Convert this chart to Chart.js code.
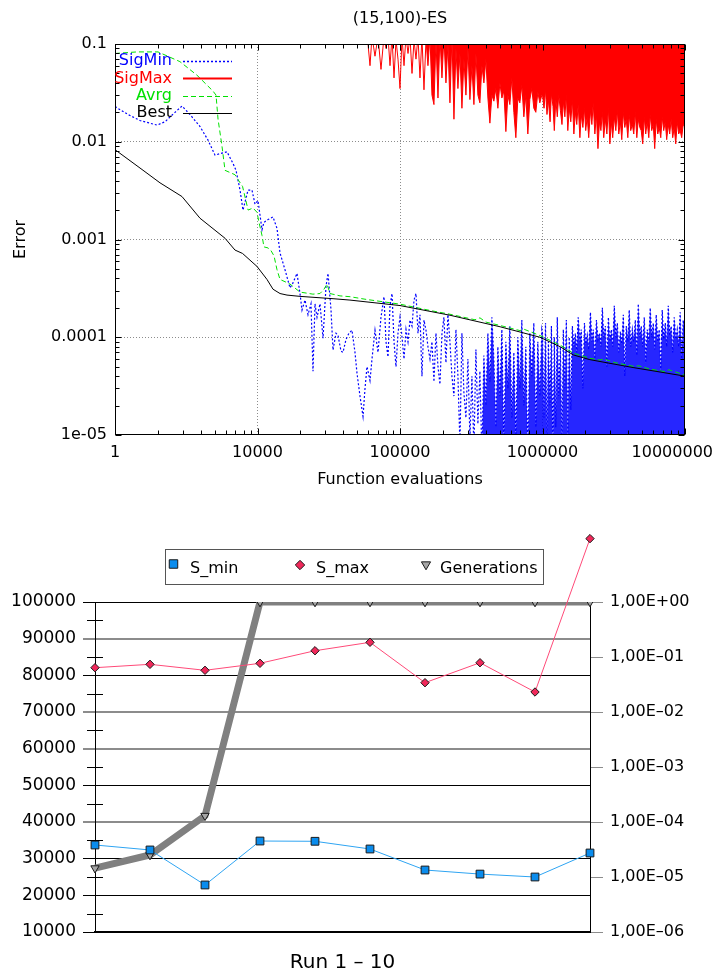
<!DOCTYPE html>
<html><head><meta charset="utf-8">
<script src="https://cdn.jsdelivr.net/npm/chart.js@4.4.1/dist/chart.umd.min.js"></script>
<style>
html,body{margin:0;padding:0;background:#fff;}
#top{position:absolute;left:0;top:0;}
#bot{position:absolute;left:0;top:500px;}
</style></head><body>
<canvas id="top" width="714" height="500"></canvas>
<canvas id="bot" width="714" height="476"></canvas>
<script>
// ---------------- Top chart data ----------------
const xTickValues = [1000, 1e4, 1e5, 1e6, 1e7];
const xTickLabels = ["1", "10000", "100000", "1000000", "10000000"];
const yTickValues = [1e-5, 1e-4, 1e-3, 1e-2, 1e-1];
const yTickLabels = ["1e-05", "0.0001", "0.001", "0.01", "0.1"];

const sigEvals = [
 1000,1234,1497,1971,2244,2637,2953,3360,3950,4494,5031,5545,6109,6732,7066,7540,7911,8579,9150,9605,
 10081,10756,11108,11849,12846,13703,14384,15597,16911,17748,18933,19868,20525,21544,22614,23733,24519,25325,26159,27457,
 28823,30249,31244,32805,33880,35557,36722,38548,39811,41786,43863,46036,48316,49905,52387,55007,56818,58675,61585,63608,
 66766,70080,73557,77202,79764,82380,85096,87898,90782,93755,96828,
 1.000e5,1.033e5,1.067e5,1.102e5,1.138e5,1.175e5,1.214e5,1.254e5,1.295e5,1.337e5,1.381e5,1.426e5,1.473e5,1.522e5,1.571e5,1.623e5,
 1.676e5,1.731e5,1.788e5,1.847e5,1.907e5,1.970e5,2.034e5,2.101e5,2.170e5,2.241e5,2.315e5,2.391e5,2.469e5,2.550e5,2.634e5,2.720e5,
 2.809e5,2.902e5,2.997e5,3.095e5,3.197e5,3.301e5,3.410e5,3.521e5,3.637e5,3.756e5,3.879e5,4.007e5,4.138e5,4.274e5,4.414e5,4.559e5,
 4.708e5,4.863e5,5.022e5,5.187e5,5.357e5,5.533e5,5.714e5,5.902e5,6.095e5,6.295e5,6.502e5,6.715e5,6.935e5,7.163e5,7.398e5,7.640e5,
 7.891e5,8.150e5,8.417e5,8.693e5,8.979e5,9.273e5,9.577e5,9.891e5,
 1.000e6,1.025e6,1.050e6,1.075e6,1.100e6,1.130e6,1.155e6,1.185e6,1.210e6,1.240e6,1.270e6,1.300e6,1.335e6,1.370e6,1.400e6,1.435e6,
 1.470e6,1.505e6,1.540e6,1.580e6,1.620e6,1.660e6,1.700e6,1.740e6,1.780e6,1.830e6,1.870e6,1.920e6,1.970e6,2.010e6,2.060e6,2.110e6,
 2.170e6,2.220e6,2.270e6,2.330e6,2.390e6,2.450e6,2.510e6,2.570e6,2.630e6,2.690e6,2.760e6,2.830e6,2.900e6,2.970e6,3.040e6,3.110e6,
 3.190e6,3.270e6,3.350e6,3.430e6,3.520e6,3.600e6,3.690e6,3.780e6,3.870e6,3.970e6,4.060e6,4.160e6,4.270e6,4.370e6,4.480e6,4.590e6,
 4.700e6,4.820e6,4.930e6,5.050e6,5.180e6,5.300e6,5.430e6,5.570e6,5.700e6,5.840e6,5.990e6,6.130e6,6.280e6,6.440e6,6.590e6,6.760e6,
 6.920e6,7.090e6,7.270e6,7.440e6,7.630e6,7.810e6,8.000e6,8.200e6,8.400e6,8.610e6,8.820e6,9.030e6,9.250e6,9.480e6,9.710e6,1.000e7
];

const sigMin = [
 0.0229,0.0190,0.0165,0.0148,0.0160,0.0200,0.0232,0.0190,0.0143,0.0104,0.0073,0.0076,0.0079,0.0060,0.0051,0.0032,0.0020,0.0032,0.0032,0.0023,
 0.0025,0.00126,0.0015,0.0016,0.0017,0.0013,0.00073,0.00049,0.00032,0.00036,0.00045,0.00028,0.00019,0.00024,0.00017,0.00022,0.000045,0.00022,0.00016,0.00022,
 0.000098,0.00033,0.00045,0.00019,0.000074,0.00011,0.000105,0.000072,0.00007,0.000095,0.00011,0.000118,0.00007,0.000043,0.000025,0.0000155,0.00003,0.00005,0.000036,0.00006,
 0.000118,0.00007,0.00016,0.00026,0.00009,0.000063,0.00021,0.00028,0.00009,0.00005,0.00011,
 0.00016,0.0001,0.00006,0.00012,0.00009,0.00015,0.00013,0.00024,0.00028,0.00011,
 0.00017,0.00004,0.00015,0.000118,0.00008,0.00006,0.00009,0.000035,0.00011,0.00005,
 0.000033,0.00011,0.00016,0.000055,0.00017,0.00009,0.00004,0.000025,0.00012,0.00004,
 0.000008,0.00011,0.000027,0.000015,0.00006,0.000009,0.00004,0.000007,0.000075,0.000013,
 0.000045,0.000006,0.000065,0.00002,0.00011,0.000035,0.00016,0.00006,0.000012,0.00008,
 0.000025,0.00012,0.000008,0.00009,0.00003,0.00013,0.000015,0.00007,0.000009,0.0001,
 0.00003,0.00015,0.00002,0.00008,0.000006,0.00011,0.00004,0.00014,0.000012,0.00009,
 0.000025,0.00012,
 0.00011,0.000015,0.00014,0.000008,0.00009,0.00002,0.00013,0.000006,0.0001,0.000012,
 0.00016,0.000025,0.00008,0.000007,0.00012,0.00003,0.00015,0.000009,0.0001,0.000018,
 0.00013,0.00008,0.00011,0.00007,0.00016,0.00009,0.00012,0.00003,0.00014,0.000085,
 0.000105,0.000075,0.00018,0.00009,0.00012,0.00006,0.00015,0.000095,0.00011,0.00008,
 0.0002,0.0001,0.00013,0.00005,0.00016,0.00009,0.00012,0.00008,0.00021,0.0001,
 0.00014,0.00007,0.000115,0.000085,0.00017,0.00004,0.00013,0.00009,0.00019,0.00008,
 0.00012,0.00009,0.00015,0.000065,0.00022,0.0001,0.00013,0.00008,0.00016,0.000055,
 0.00012,0.00009,0.0002,0.0001,0.00014,0.000075,0.00017,0.00009,0.00012,0.000045,
 0.00019,0.000095,0.00014,0.00008,0.00021,0.000105,0.00013,0.00007,0.00016,0.000095,
 0.00012,0.00008,0.00018,0.00006,0.00015,0.000095
];

const sigMax = [
 0.9,0.85,0.8,0.75,0.7,0.65,0.6,0.55,0.5,0.48,0.45,0.42,0.4,0.38,0.36,0.35,0.34,0.33,0.32,0.31,
 0.3,0.29,0.29,0.28,0.27,0.26,0.26,0.25,0.24,0.24,0.23,0.22,0.22,0.21,0.21,0.2,0.2,0.19,0.19,0.18,
 0.18,0.18,0.17,0.17,0.17,0.16,0.16,0.16,0.15,0.15,0.15,0.14,0.14,0.14,0.14,0.13,0.13,
 0.13,0.06,0.12,0.075,0.12,0.055,0.12,0.09,0.12,0.06,0.12,0.045,0.11,0.07,
 0.035,0.12,0.06,0.12,0.08,0.12,0.05,0.11,0.07,0.12,0.045,0.12,0.034,
 0.11,0.06,0.12,0.03,0.024,0.11,0.028,0.12,0.045,0.12,0.04,0.10,0.025,0.12,0.017,0.09,
 0.035,0.08,0.022,0.07,0.03,0.09,0.027,0.06,0.024,0.08,0.03,0.025,0.06,0.04,0.07,0.028,
 0.0155,0.03,0.026,0.035,0.022,0.04,0.028,0.033,0.0127,0.03,
 0.024,0.045,0.02,0.011,0.028,0.025,0.038,0.018,0.03,0.012,
 0.027,0.035,0.022,0.02,0.032,0.025,0.03,
 0.03,0.022,0.034,0.019,0.027,0.016,0.031,0.023,0.013,0.027,0.018,0.03,
 0.021,0.015,0.026,0.018,0.03,0.013,0.022,0.016,0.027,0.012,0.02,0.015,
 0.024,0.011,0.019,0.014,0.022,0.013,0.018,0.011,0.021,0.015,0.025,0.012,
 0.019,0.0085,0.016,0.013,0.02,0.011,0.017,0.012,0.022,0.0095,0.016,0.011,
 0.018,0.013,0.021,0.012,0.016,0.0105,0.02,0.014,0.017,0.011,0.019,0.013,
 0.015,0.012,0.02,0.011,0.017,0.014,0.013,0.0095,0.018,0.012,0.016,0.011,
 0.019,0.013,0.015,0.0085,0.017,0.012,0.014,0.011,0.018,0.013,0.016,0.0105,
 0.015,0.012,0.017,0.011,0.014,0.0095,0.016,0.012,0.013,0.011,0.015,0.014
];

const avgEvals = [1000,1427,2004,2856,3758,4870,5117,5286,5640,5916,6950,7300,7850,8590,9300,9920,10240,10756,11100,11850,
 12430,13060,13710,14390,15600,16910,19860,24490,27450,29290,30740,32260,37950,44570,56780,100000,162300,224000,336000,364000,
 400000,504000,695000,740000,960000,1330000,1640000,2150000,2530000,2700000,3230000,4320000,4750000,5680000,7240000,7700000,10000000];
const avrg = [0.080,0.083,0.083,0.066,0.048,0.033,0.030,0.017,0.0089,0.0051,0.0046,0.0041,0.0035,0.0020,0.0021,0.0019,0.0015,0.0011,0.00084,0.00082,
 0.00077,0.00068,0.00049,0.00039,0.00037,0.00035,0.00029,0.000276,0.00028,0.00031,0.00035,0.00028,0.000265,0.00026,0.000245,0.000218,0.000188,0.000172,0.000151,0.000158,
 0.000143,0.000132,0.000117,0.000121,0.000104,0.000083,0.000069,0.000061,0.0000585,0.00006,0.000055,0.0000505,0.000051,0.0000472,0.0000445,0.0000465,0.000041];

const bestEvals = [1000,1547,2069,2952,3950,5916,6950,7850,9920,11660,12850,14390,16110,19860,33880,44570,100000,224000,504000,960000,1330000,1640000,2150000,4320000,10000000];
const best = [0.0083,0.0052,0.0038,0.00275,0.00165,0.00103,0.00078,0.00072,0.00053,0.00039,0.00031,0.00028,0.00027,0.000262,0.000248,0.00024,0.000211,0.000168,0.000128,0.0001,0.00008,0.000066,0.000059,0.000049,0.00004];

// ---------------- Bottom chart data ----------------
const runs = ["1","2","3","4","5","6","7","8","9","10"];
const sMin = [3.82e-5, 3.10e-5, 7.16e-6, 4.51e-5, 4.46e-5, 3.23e-5, 1.34e-5, 1.13e-5, 1.00e-5, 2.73e-5];
const sMax = [0.0639, 0.0736, 0.0573, 0.0768, 0.130, 0.185, 0.0341, 0.0787, 0.0231, 14.2];
const generations = [27400, 31000, 41700, 100000, 100000, 100000, 100000, 100000, 100000, 100000];
const leftTickValues = [10000,20000,30000,40000,50000,60000,70000,80000,90000,100000];
const leftTickLabels = ["10000","20000","30000","40000","50000","60000","70000","80000","90000","100000"];
const rightTickValues = [1e-6,1e-5,1e-4,1e-3,1e-2,1e-1,1];
const rightTickLabels = ["1,00E\u201306","1,00E\u201305","1,00E\u201304","1,00E\u201303","1,00E\u201302","1,00E\u201301","1,00E+00"];

// ---------------- helpers ----------------
const FONT = "'DejaVu Sans', 'Liberation Sans', sans-serif";
Chart.defaults.font.family = FONT;
Chart.defaults.color = '#000';

function isPow10(v){ const l = Math.log10(v); return Math.abs(l - Math.round(l)) < 1e-9; }
function labelFor(values, labels, v){
  for (let i = 0; i < values.length; i++) if (Math.abs(values[i] - v) <= values[i] * 1e-6) return labels[i];
  return '';
}
function mant(v){
  const e = Math.floor(Math.log10(v) + 1e-9);
  const m = v / Math.pow(10, e);
  const r = Math.round(m);
  return (Math.abs(m - r) < 1e-6 && r >= 1 && r <= 9) ? r : null;
}
const toXY = (xs, ys) => xs.map((x, i) => ({x: x, y: ys[i]}));

// frame + inward ticks (gnuplot style)
const frameTicks = {
  id: 'frameTicks',
  afterDatasetsDraw(chart){
    const {ctx, chartArea: a} = chart;
    const xs = chart.scales.x, ys = chart.scales.y;
    const L = Math.round(a.left) + 0.5, R = Math.round(a.right) - 0.5;
    const T = Math.round(a.top) + 0.5, B = Math.round(a.bottom) - 0.5;
    ctx.save();
    ctx.strokeStyle = '#000'; ctx.lineWidth = 1; ctx.setLineDash([]);
    ctx.beginPath();
    xs.ticks.forEach(t => {
      const m = mant(t.value); if (m === null) return;
      const len = m === 1 ? 6 : 4;
      const px = Math.round(xs.getPixelForValue(t.value)) + 0.5;
      ctx.moveTo(px, B); ctx.lineTo(px, B - len);
      ctx.moveTo(px, T); ctx.lineTo(px, T + len);
    });
    ys.ticks.forEach(t => {
      const m = mant(t.value); if (m === null) return;
      const len = m === 1 ? 6 : 4;
      const py = Math.round(ys.getPixelForValue(t.value)) + 0.5;
      ctx.moveTo(L, py); ctx.lineTo(L + len, py);
      ctx.moveTo(R, py); ctx.lineTo(R - len, py);
    });
    ctx.stroke();
    ctx.strokeRect(L, T, R - L, B - T);
    ctx.restore();
  }
};

// gnuplot-style key
const gnuKey = {
  id: 'gnuKey',
  afterDatasetsDraw(chart){
    const ctx = chart.ctx;
    ctx.save();
    ctx.font = "16px " + FONT;
    ctx.textAlign = 'right'; ctx.textBaseline = 'middle';
    chart.data.datasets.forEach((ds, i) => {
      const yy = 61 + i * 17.4;
      ctx.fillStyle = ds.borderColor;
      ctx.fillText(ds.label, 172, yy);
      ctx.strokeStyle = ds.borderColor;
      ctx.lineWidth = ds.keyWidth || ds.borderWidth;
      ctx.setLineDash(ds.borderDash || []);
      ctx.beginPath();
      ctx.moveTo(183, Math.round(yy) + 0.5); ctx.lineTo(232, Math.round(yy) + 0.5);
      ctx.stroke();
    });
    ctx.restore();
  }
};

const lineBase = {pointRadius: 0, tension: 0};
const CLEAR = 'rgba(0,0,0,0)';

new Chart(document.getElementById('top'), {
  type: 'line',
  data: {
    datasets: [
      Object.assign({label: 'SigMin', data: toXY(sigEvals, sigMin), borderColor: '#0000ff', borderWidth: 1.2, keyWidth: 1.6, borderDash: [2, 2], order: 3,
        fill: 'start', backgroundColor: CLEAR,
        segment: {backgroundColor: c => sigEvals[c.p0DataIndex] >= 3.7e5 ? 'rgba(0,0,255,0.85)' : CLEAR}}, lineBase),
      Object.assign({label: 'SigMax', data: toXY(sigEvals, sigMax), borderColor: '#ff0000', borderWidth: 1, keyWidth: 2, order: 2,
        fill: 'end', backgroundColor: CLEAR,
        segment: {backgroundColor: c => sigEvals[c.p0DataIndex] >= 1.5e5 ? '#ff0000' : CLEAR}}, lineBase),
      Object.assign({label: 'Avrg', data: toXY(avgEvals, avrg), borderColor: '#00e000', borderWidth: 1, borderDash: [5, 3], order: 1, fill: false}, lineBase),
      Object.assign({label: 'Best', data: toXY(bestEvals, best), borderColor: '#000000', borderWidth: 1, order: 0, fill: false}, lineBase)
    ]
  },
  options: {
    responsive: false, animation: false, events: [],
    layout: {padding: {left: 0, right: 29, top: 0, bottom: 0}},
    plugins: {
      legend: {display: false}, tooltip: {enabled: false},
      title: {display: true, fullSize: false, text: '(15,100)-ES', color: '#000',
        font: {family: FONT, size: 16, weight: 'normal'}, padding: {top: 9.4, bottom: 15.4}}
    },
    scales: {
      x: {
        type: 'logarithmic', min: 1000, max: 1e7,
        grid: {drawTicks: false, lineWidth: 1,
          color: c => (c.tick && isPow10(c.tick.value) && c.tick.value > 1000 && c.tick.value < 1e7) ? '#8c8c8c' : CLEAR},
        border: {display: false, dash: [1, 2]},
        ticks: {autoSkip: false, maxRotation: 0, minRotation: 0, padding: 8, color: '#000', font: {size: 16},
          callback: v => { const s = labelFor(xTickValues, xTickLabels, v); return (s && v >= 1e7 * 0.999) ? s + '     ' : s; }},
        title: {display: true, text: 'Function evaluations', color: '#000', font: {size: 16}, padding: {top: 0, bottom: 10.4}},
        afterFit(s){ s.height = 65; s.paddingLeft = 0; s.paddingRight = 0; }
      },
      y: {
        type: 'logarithmic', min: 1e-5, max: 0.1,
        grid: {drawTicks: false, lineWidth: 1,
          color: c => (c.tick && isPow10(c.tick.value) && c.tick.value > 1.0001e-5 && c.tick.value < 0.0999) ? '#8c8c8c' : CLEAR},
        border: {display: false, dash: [1, 2]},
        ticks: {autoSkip: false, padding: 8, color: '#000', font: {size: 16},
          callback: v => labelFor(yTickValues, yTickLabels, v)},
        title: {display: true, text: 'Error', color: '#000', font: {size: 16}, padding: {top: 11, bottom: 0}},
        afterFit(s){ s.width = 115; }
      }
    }
  },
  plugins: [frameTicks, gnuKey]
});

// ---------------- bottom chart ----------------
function drawMarker(ctx, style, rot, r, x, y, fill, stroke){
  ctx.save();
  ctx.fillStyle = fill; ctx.strokeStyle = stroke; ctx.lineWidth = 1;
  ctx.beginPath();
  if (style === 'rect') {
    const s = r * Math.SQRT1_2;
    ctx.rect(x - s, y - s, 2 * s, 2 * s);
  } else if (style === 'rectRot') {
    ctx.moveTo(x - r, y); ctx.lineTo(x, y - r); ctx.lineTo(x + r, y); ctx.lineTo(x, y + r); ctx.closePath();
  } else {
    let a = rot * Math.PI / 180;
    ctx.moveTo(x + Math.sin(a) * r, y - Math.cos(a) * r);
    a += 2 * Math.PI / 3; ctx.lineTo(x + Math.sin(a) * r, y - Math.cos(a) * r);
    a += 2 * Math.PI / 3; ctx.lineTo(x + Math.sin(a) * r, y - Math.cos(a) * r);
    ctx.closePath();
  }
  ctx.fill(); ctx.stroke();
  ctx.restore();
}

const boxLegend = {
  id: 'boxLegend',
  afterDraw(chart){
    const ctx = chart.ctx;
    ctx.save();
    ctx.strokeStyle = '#555'; ctx.lineWidth = 1;
    ctx.strokeRect(165.5, 49.5, 378, 35);
    const spots = [{mx: 173.5, my: 64, tx: 190}, {mx: 300, my: 65, tx: 316}, {mx: 426, my: 64.5, tx: 440}];
    chart.data.datasets.forEach((ds, i) => {
      const sp = spots[i];
      drawMarker(ctx, ds.pointStyle, ds.pointRotation || 0, ds.pointRadius + 0.5, sp.mx, sp.my, ds.pointBackgroundColor, ds.pointBorderColor);
      ctx.fillStyle = '#000';
      ctx.font = "16px " + FONT;
      ctx.textAlign = 'left'; ctx.textBaseline = 'middle';
      ctx.fillText(ds.label, sp.tx, 69);
    });
    ctx.restore();
  }
};

const leftMinor = {
  id: 'leftMinor',
  afterDraw(chart){
    const y = chart.scales.y, ctx = chart.ctx;
    ctx.save();
    ctx.strokeStyle = '#000'; ctx.lineWidth = 1;
    ctx.beginPath();
    for (let i = 0; i < y.ticks.length - 1; i++) {
      const v = (y.ticks[i].value + y.ticks[i + 1].value) / 2;
      const py = Math.round(y.getPixelForValue(v)) + 0.5;
      ctx.moveTo(87, py); ctx.lineTo(103, py);
    }
    ctx.stroke();
    ctx.restore();
  }
};

// markers that lie outside the plot area (S_max of run 10) are still drawn by their own point element
const outsideMarkers = {
  id: 'outsideMarkers',
  afterDatasetsDraw(chart){
    const a = chart.chartArea;
    const whole = {left: 0, top: 0, right: chart.width, bottom: chart.height};
    chart.data.datasets.forEach((ds, di) => {
      chart.getDatasetMeta(di).data.forEach(el => {
        if (el.y < a.top - 2 || el.y > a.bottom + 2) el.draw(chart.ctx, whole);
      });
    });
  }
};

const softGrid = [90000, 70000, 60000, 40000];

new Chart(document.getElementById('bot'), {
  type: 'line',
  data: {
    labels: runs,
    datasets: [
      {label: 'S_min', data: sMin, yAxisID: 'y2', borderColor: '#2ea4f2', borderWidth: 1, tension: 0,
        pointStyle: 'rect', pointRadius: 5.5, pointBackgroundColor: '#0a8ced', pointBorderColor: '#1a1a1a', pointBorderWidth: 1, order: 0, clip: false},
      {label: 'S_max', data: sMax, yAxisID: 'y2', borderColor: '#ff4a78', borderWidth: 1, tension: 0,
        pointStyle: 'rectRot', pointRadius: 4.2, pointBackgroundColor: '#f0285a', pointBorderColor: '#1a1a1a', pointBorderWidth: 1, order: 1, clip: false},
      {label: 'Generations', data: generations, yAxisID: 'y', borderColor: '#808080', borderWidth: 7, tension: 0,
        pointStyle: 'triangle', pointRotation: 180, pointRadius: 4.8, pointBackgroundColor: '#a6a6a6', pointBorderColor: '#1a1a1a', pointBorderWidth: 1, order: 2}
    ]
  },
  options: {
    responsive: false, animation: false, events: [],
    layout: {padding: {top: 102, left: 0, right: 0, bottom: 0}},
    plugins: {legend: {display: false}, tooltip: {enabled: false}},
    scales: {
      x: {
        type: 'category', offset: false,
        grid: {display: false},
        border: {display: true, color: '#000', width: 2},
        ticks: {display: false},
        title: {display: true, text: 'Run 1 \u2013 10', color: '#000', font: {size: 20}, padding: {top: 0, bottom: 1}},
        afterFit(s){ s.height = 44; }
      },
      y: {
        position: 'left', min: 10000, max: 100000,
        afterBuildTicks(s){ s.ticks = leftTickValues.map(v => ({value: v})); },
        ticks: {autoSkip: false, padding: 7, color: '#000', font: {size: 17},
          callback: v => labelFor(leftTickValues, leftTickLabels, v)},
        grid: {tickLength: 12,
          color: c => (c.tick && softGrid.includes(c.tick.value)) ? '#8c8c8c' : '#000',
          lineWidth: c => (c.tick && softGrid.includes(c.tick.value)) ? 2 : 1},
        border: {display: true, color: '#000', width: 1},
        afterFit(s){ s.width = 95; }
      },
      y2: {
        type: 'logarithmic', position: 'right', min: 1e-6, max: 1,
        afterBuildTicks(s){ s.ticks = rightTickValues.map(v => ({value: v})); },
        ticks: {autoSkip: false, padding: 7, color: '#000', font: {size: 16},
          callback: v => labelFor(rightTickValues, rightTickLabels, v)},
        grid: {drawOnChartArea: false, color: '#8c8c8c', tickLength: 13},
        border: {display: true, color: '#000', width: 1},
        afterFit(s){ s.width = 124; }
      }
    }
  },
  plugins: [leftMinor, boxLegend, outsideMarkers]
});
</script>
</body></html>
